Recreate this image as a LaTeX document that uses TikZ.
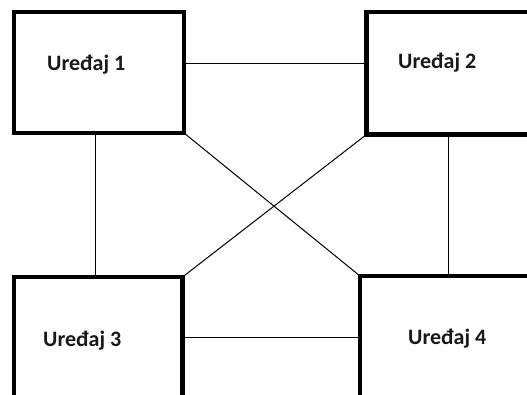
\documentclass[tikz,border=0pt]{standalone}
\usepackage{fontspec}
\setmainfont{Carlito}
\begin{document}
\begin{tikzpicture}[x=1pt,y=-1pt,
  device/.style={draw=black,line width=4.2pt,fill=white,minimum width=#1,inner sep=0pt,outer sep=0pt},
  lbl/.style={font=\fontsize{22}{26}\selectfont\bfseries,text=black!90,inner sep=0pt,anchor=base west},
  link/.style={draw=black,line width=1pt}]
\useasboundingbox (0,0) rectangle (527,394);
\clip (0,0) rectangle (527,394);
\fill[white] (0,0) rectangle (527,394);
% boxes
\node[device=170pt,minimum height=121pt] (b1) at (99,72.5) {};
\node[device=174pt,minimum height=122.5pt] (b2) at (453.5,73.25) {};
\node[device=168.5pt,minimum height=133pt] (b3) at (98.25,343.5) {};
\node[device=180pt,minimum height=134pt] (b4) at (450,343) {};
% connectors
\draw[link] (b1.east |- 0,63) -- (b2.west |- 0,63);
\draw[link] (b3.east |- 0,337) -- (b4.west |- 0,337);
\draw[link] (95,0 |- b1.south) -- (95,0 |- b3.north);
\draw[link] (448,0 |- b2.south) -- (448,0 |- b4.north);
\draw[link] (b1.south east) -- (b4.north west);
\draw[link] (b2.south west) -- (b3.north east);
% labels
\node[lbl] (t1) at (47,70) {Uređaj 1};
\node[lbl] (t2) at (398,68.5) {Uređaj 2};
\node[lbl] (t3) at (43,346) {Uređaj 3};
\node[lbl] (t4) at (408,344) {Uređaj 4};
\end{tikzpicture}
\end{document}
